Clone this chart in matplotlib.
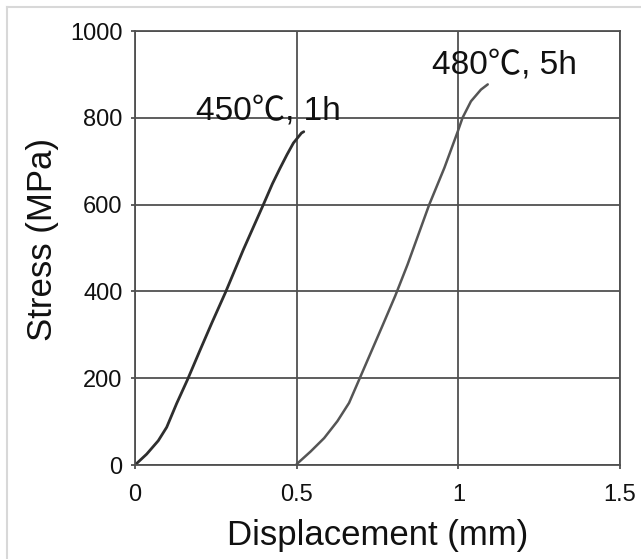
import matplotlib
matplotlib.use("Agg")
import matplotlib.pyplot as plt
from matplotlib.lines import Line2D

# 450C, 1h curve (displacement mm, stress MPa)
disp_450 = [0.0, 0.036, 0.072, 0.098, 0.129, 0.162, 0.202, 0.238, 0.280, 0.335,
            0.397, 0.425, 0.448, 0.470, 0.490, 0.515, 0.522]
stress_450 = [0, 25, 56, 87, 142, 196, 266, 328, 398, 496,
              600, 648, 683, 715, 742, 765, 768]

# 480C, 5h curve
disp_480 = [0.5, 0.543, 0.585, 0.626, 0.662, 0.694, 0.730, 0.766, 0.805, 0.843,
            0.910, 0.957, 0.998, 1.013, 1.039, 1.070, 1.091]
stress_480 = [2, 31, 62, 101, 143, 198, 260, 322, 390, 462,
              600, 685, 768, 800, 838, 865, 877]

x_ticks = [0, 0.5, 1, 1.5]
x_labels = ['0', '0.5', '1', '1.5']
y_ticks = [0, 200, 400, 600, 800, 1000]

plt.rcParams['font.family'] = ['Liberation Sans', 'Noto Sans CJK JP', 'DejaVu Sans']

fig = plt.figure(figsize=(6.41, 5.59), dpi=100)
ax = fig.add_axes([135/641, 1 - 465/559, (620-135)/641, (465-31)/559])

grid_col = '#505050'
ax.plot(disp_450, stress_450, color='#2e2e2e', lw=2.0, solid_capstyle='round')
ax.plot(disp_480, stress_480, color='#555555', lw=1.8, solid_capstyle='round')

ax.set_xlim(0, 1.5)
ax.set_ylim(0, 1000)
ax.set_xticks(x_ticks)
ax.set_xticklabels(x_labels)
ax.set_yticks(y_ticks)
ax.grid(True, color=grid_col, lw=1.3)
ax.set_axisbelow(True)
for s in ax.spines.values():
    s.set_color(grid_col)
    s.set_linewidth(1.3)
ax.tick_params(length=3, width=1.3, color=grid_col, labelsize=17, labelcolor='#111111')
ax.tick_params(axis='x', pad=11)
ax.tick_params(axis='y', pad=6)

ax.set_xlabel('Displacement (mm)', fontsize=25, color='#111111', labelpad=9)
ax.set_ylabel('Stress (MPa)', fontsize=25, color='#111111', labelpad=8, y=0.52)

ax.text(0.189, 797, '450℃, 1h', fontsize=24, color='#111111', va='baseline', ha='left')
ax.text(0.919, 902, '480℃, 5h', fontsize=24, color='#111111', va='baseline', ha='left')

# light frame around the picture
fig.add_artist(Line2D([7/641, 7/641], [0, 1 - 7/559], transform=fig.transFigure, color='#d8d8d8', lw=1.5))
fig.add_artist(Line2D([7/641, 1], [1 - 7/559, 1 - 7/559], transform=fig.transFigure, color='#d8d8d8', lw=1.5))

fig.savefig('out.png', dpi=100)
